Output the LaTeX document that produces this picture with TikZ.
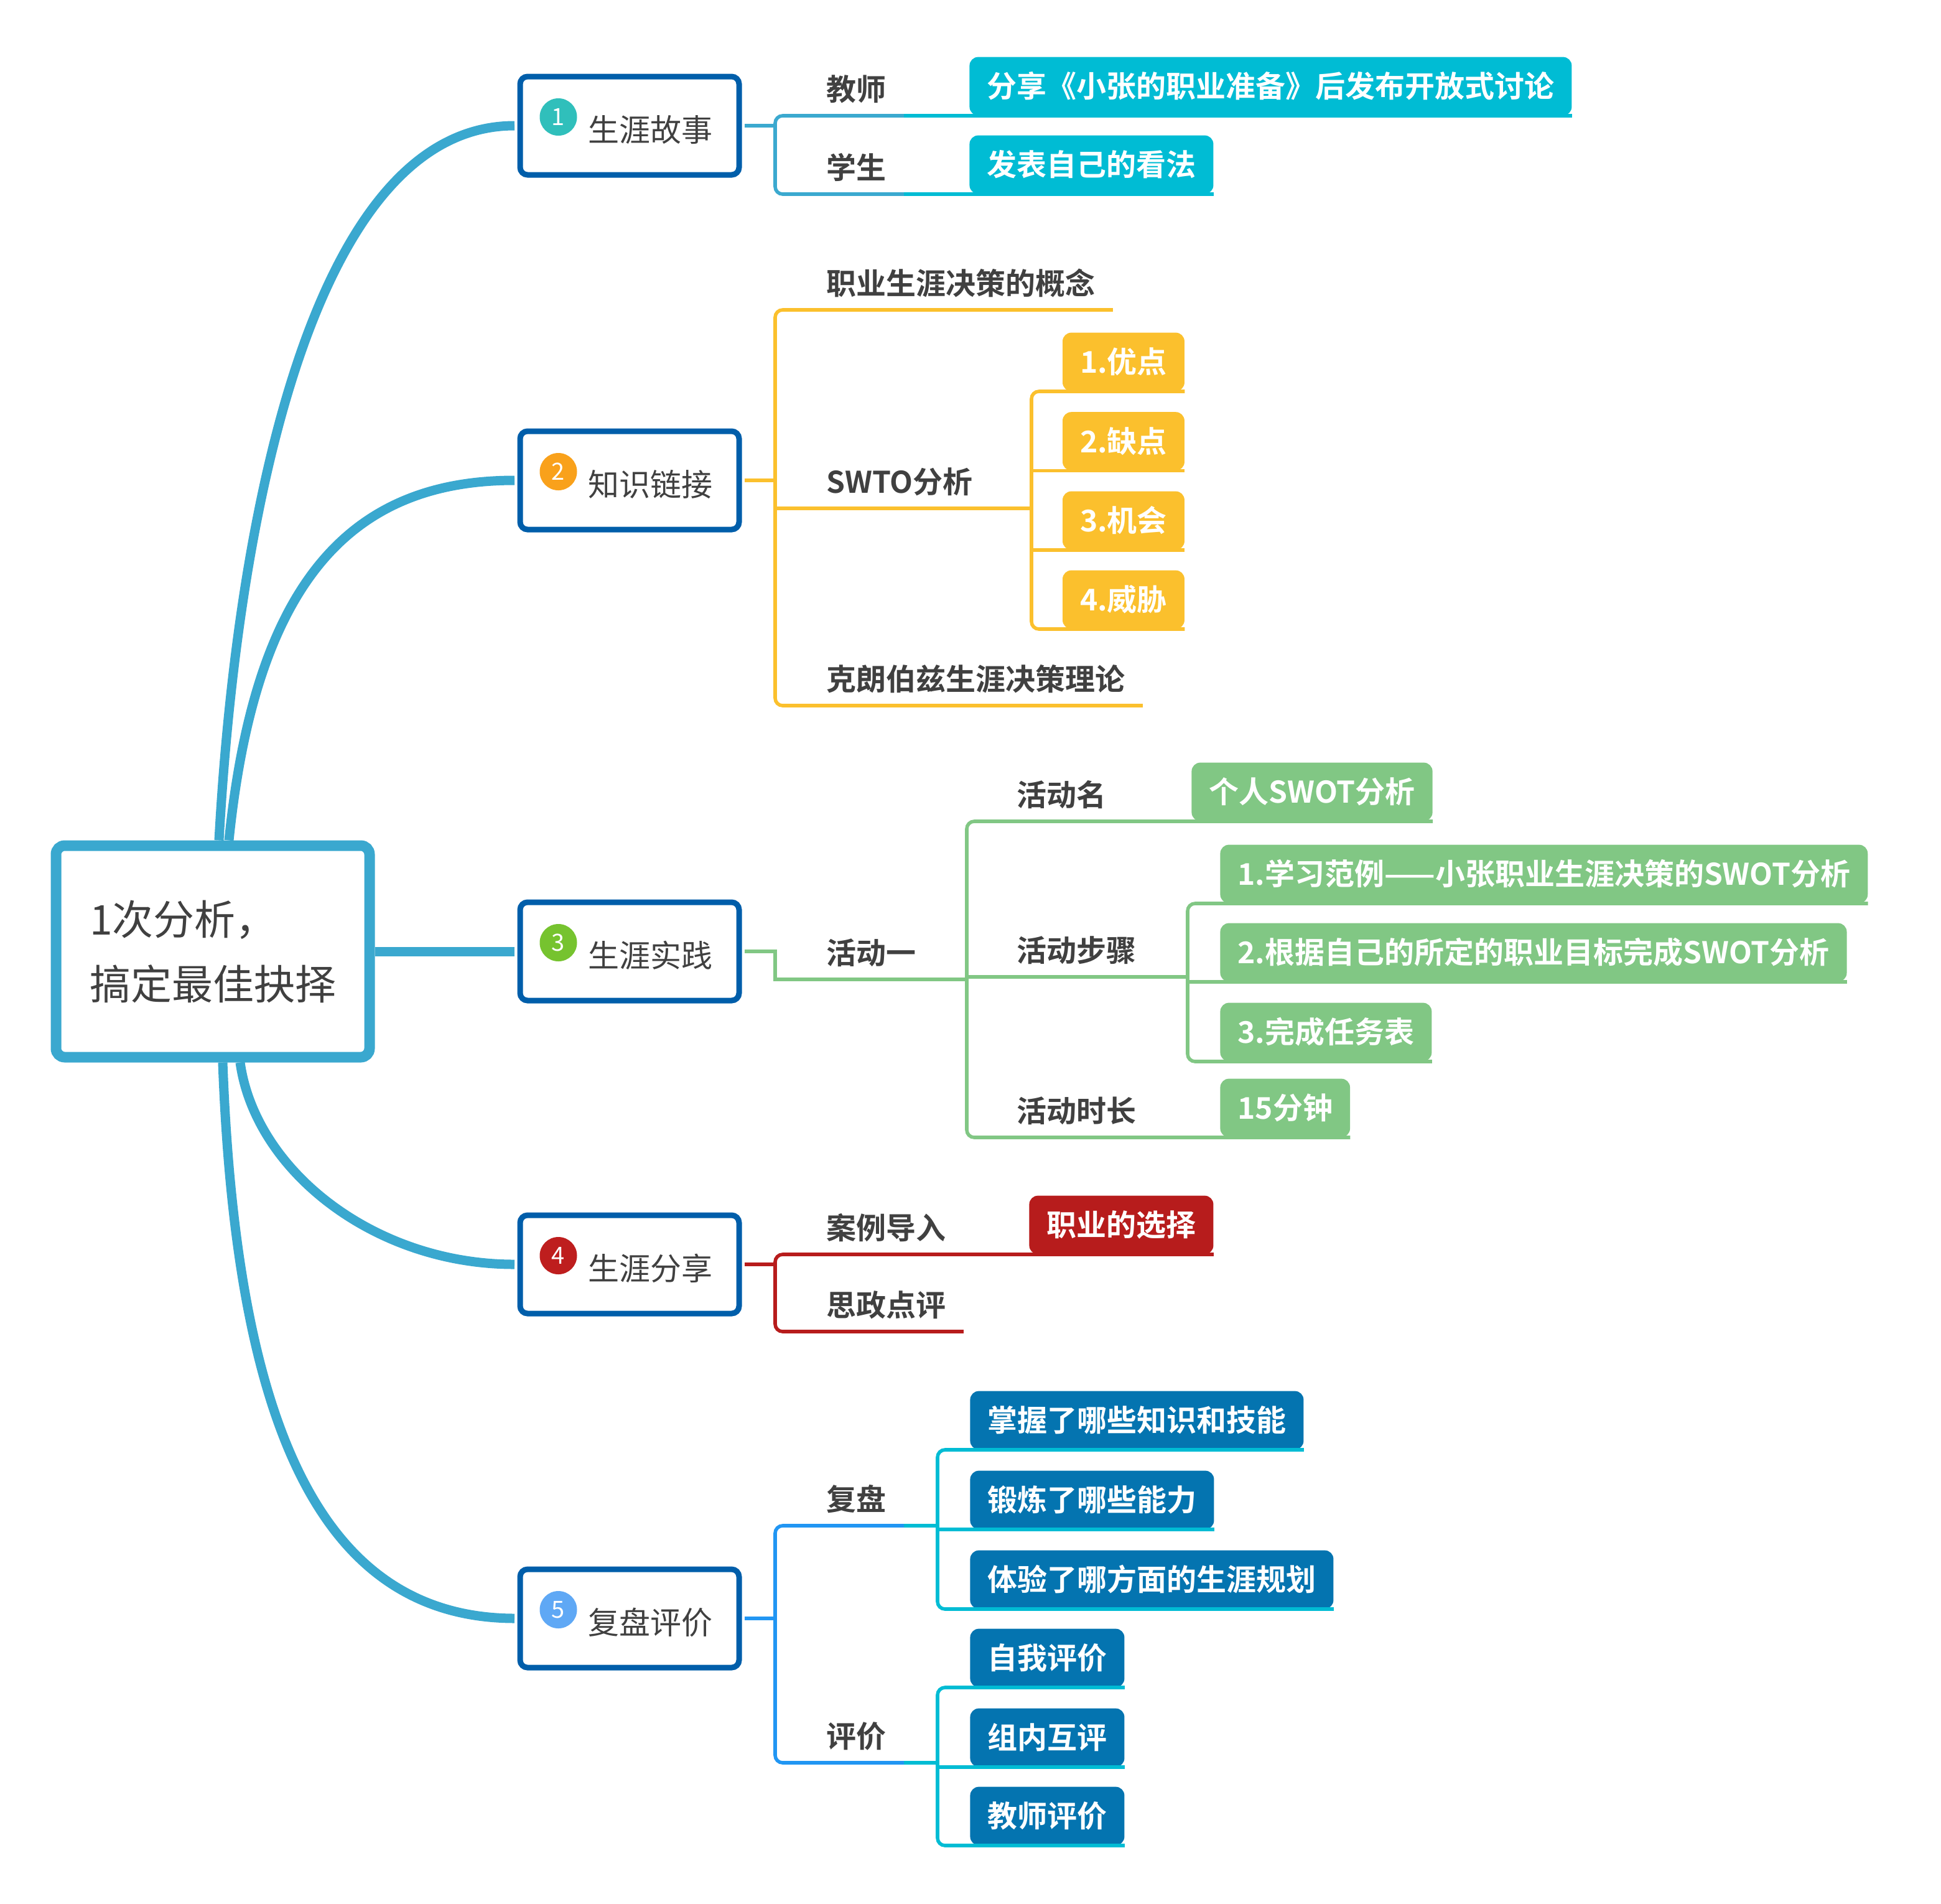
\documentclass[tikz,border=0pt]{standalone}
\usepackage{fontspec}
\setmainfont{Noto Sans CJK SC}[BoldFont={Noto Sans CJK SC Bold}]
\definecolor{trunkc}{HTML}{3AA8CF}
\definecolor{boxc}{HTML}{005EAA}
\definecolor{txtc}{HTML}{404040}
\definecolor{dotA}{HTML}{30BFBB}
\definecolor{dotB}{HTML}{F9A11B}
\definecolor{dotC}{HTML}{76C32F}
\definecolor{dotD}{HTML}{BE1E1E}
\definecolor{dotE}{HTML}{5FA8F5}
\definecolor{conA}{HTML}{3BA9CF}
\definecolor{leafA}{HTML}{00BCD4}
\definecolor{conB}{HTML}{FBC02D}
\definecolor{conC}{HTML}{81C784}
\definecolor{conD}{HTML}{B71C1C}
\definecolor{conE}{HTML}{2196F3}
\definecolor{conEE}{HTML}{00BCD4}
\definecolor{leafE}{HTML}{0474B0}

\begin{document}
\begin{tikzpicture}[x=1pt, y=-1pt,
    trunk/.style={draw=trunkc, line width=7.5pt},
    rootbox/.style={draw=trunkc, line width=8.5pt, rounded corners=7pt, fill=white,
        minimum width=252pt, minimum height=170pt, align=left, text=txtc,
        font=\fontsize{33}{52}\selectfont},
    mainbox/.style={draw=boxc, line width=4.5pt, rounded corners=6pt, fill=white,
        minimum width=176pt, minimum height=79pt},
    maintext/.style={anchor=west, inner sep=0pt, text height=22pt, text depth=3pt,
        text=txtc, font=\fontsize{25}{30}\selectfont},
    numdot/.style={circle, minimum size=30pt, inner sep=0pt, text=white,
        font=\fontsize{19}{19}\selectfont},
    lbl/.style={anchor=south west, inner xsep=14pt, inner ysep=9pt, text height=21pt,
        text depth=3pt, text=txtc, font=\bfseries\fontsize{24}{28}\selectfont},
    leaf/.style={anchor=south west, rounded corners=7pt, inner xsep=14pt, inner ysep=11.5pt,
        text height=21pt, text depth=3pt, text=white, font=\bfseries\fontsize{24}{28}\selectfont},
    con/.style={line width=2.8pt},
    elbow/.style={rounded corners=6pt}]
    \useasboundingbox (0,0) rectangle (1560,1529.5);

    % centre and the five topics
    \node[rootbox] (root) at (171,764.5) {1次分析，\\搞定最佳抉择};
    \foreach \i/\yy/\dc/\txt in {1/101/dotA/生涯故事, 2/386/dotB/知识链接, 3/764.5/dotC/生涯实践,
        4/1016/dotD/生涯分享, 5/1300.5/dotE/复盘评价} {
        \node[mainbox] (b\i) at (506,\yy) {};
        \node[numdot, fill=\dc] (d\i) at ([xshift=33pt, yshift=7pt]b\i.west) {\i};
        \node[maintext] (t\i) at ([xshift=57pt, yshift=-3pt]b\i.west) {\txt};
    }
    \draw[trunk, shorten >=2.25pt] ([xshift=5pt]root.north) .. controls (190,420) and (250,101) .. (b1.west);
    \draw[trunk, shorten >=2.25pt] ([xshift=13pt]root.north) .. controls (205,470) and (280,386) .. (b2.west);
    \draw[trunk, shorten >=2.25pt] (root.east) -- (b3.west);
    \draw[trunk, shorten >=2.25pt] ([xshift=22pt]root.south) .. controls (205,940) and (300,1016) .. (b4.west);
    \draw[trunk, shorten >=2.25pt] ([xshift=8pt]root.south) .. controls (190,1150) and (260,1300) .. (b5.west);

    % 1 生涯故事
    \coordinate (j1) at (623,101);
    \node[lbl] (l11) at (650,93) {教师};
    \node[lbl] (l12) at (650,156) {学生};
    \node[leaf, fill=leafA] (f11) at (779,93) {分享《小张的职业准备》后发布开放式讨论};
    \node[leaf, fill=leafA] (f12) at (779,156) {发表自己的看法};
    \draw[con, draw=conA, shorten <=2.25pt] (b1.east) -- (j1);
    \draw[con, draw=conA, elbow] (j1) |- (l11.south east);
    \draw[con, draw=conA, elbow] (j1) |- (l12.south east);
    \draw[con, draw=leafA] (l11.south east) -- (f11.south east);
    \draw[con, draw=leafA] (l12.south east) -- (f12.south east);

    % 2 知识链接
    \coordinate (j2) at (623,386);
    \coordinate (j22) at (829,408.5);
    \node[lbl] (l21) at (650,249) {职业生涯决策的概念};
    \node[lbl] (l22) at (650,408.5) {SWTO分析};
    \node[lbl] (l23) at (650,567) {克朗伯兹生涯决策理论};
    \node[leaf, fill=conB] (f21) at (853.8,314.5) {1.优点};
    \node[leaf, fill=conB] (f22) at (853.8,378.3) {2.缺点};
    \node[leaf, fill=conB] (f23) at (853.8,442) {3.机会};
    \node[leaf, fill=conB] (f24) at (853.8,505.5) {4.威胁};
    \draw[con, draw=conB, shorten <=2.25pt] (b2.east) -- (j2);
    \draw[con, draw=conB, elbow] (j2) |- (l21.south east);
    \draw[con, draw=conB] (j2) |- (l22.south east) -- (j22);
    \draw[con, draw=conB, elbow] (j2) |- (l23.south east);
    \draw[con, draw=conB, elbow] (j22) |- (f21.south east);
    \draw[con, draw=conB] (j22) |- (f22.south east);
    \draw[con, draw=conB] (j22) |- (f23.south east);
    \draw[con, draw=conB, elbow] (j22) |- (f24.south east);

    % 3 生涯实践
    \coordinate (j3) at (623,764.5);
    \coordinate (j31) at (777,787);
    \coordinate (j33) at (954.5,785);
    \node[lbl] (l31) at (650,787) {活动一};
    \node[lbl] (l32) at (803,660) {活动名};
    \node[lbl] (l33) at (803,785) {活动步骤};
    \node[lbl] (l34) at (803,914) {活动时长};
    \node[leaf, fill=conC] (f31) at (957.5,660) {个人SWOT分析};
    \node[leaf, fill=conC] (f32) at (980.5,726) {1.学习范例——小张职业生涯决策的SWOT分析};
    \node[leaf, fill=conC] (f33) at (980.5,789) {2.根据自己的所定的职业目标完成SWOT分析};
    \node[leaf, fill=conC] (f34) at (980.5,853) {3.完成任务表};
    \node[leaf, fill=conC] (f35) at (980.5,914) {15分钟};
    \draw[con, draw=conC, shorten <=2.25pt] (b3.east) -- (j3) |- (l31.south east) -- (j31);
    \draw[con, draw=conC, elbow] (j31) |- (l32.south east) -- (f31.south east);
    \draw[con, draw=conC] (j31) |- (l33.south east) -- (j33);
    \draw[con, draw=conC, elbow] (j31) |- (l34.south east) -- (f35.south east);
    \draw[con, draw=conC, elbow] (j33) |- (f32.south east);
    \draw[con, draw=conC] (j33) |- (f33.south east);
    \draw[con, draw=conC, elbow] (j33) |- (f34.south east);

    % 4 生涯分享
    \coordinate (j4) at (623,1016);
    \node[lbl] (l41) at (650,1008) {案例导入};
    \node[lbl] (l42) at (650,1070) {思政点评};
    \node[leaf, fill=conD] (f41) at (827,1008) {职业的选择};
    \draw[con, draw=conD, shorten <=2.25pt] (b4.east) -- (j4);
    \draw[con, draw=conD, elbow] (j4) |- (l41.south east) -- (f41.south east);
    \draw[con, draw=conD, elbow] (j4) |- (l42.south east);

    % 5 复盘评价
    \coordinate (j5) at (623,1300.5);
    \coordinate (j51) at (753.5,1226);
    \coordinate (j52) at (753.5,1416.5);
    \node[lbl] (l51) at (650,1226) {复盘};
    \node[lbl] (l52) at (650,1416.5) {评价};
    \node[leaf, fill=leafE] (f51) at (779.5,1165) {掌握了哪些知识和技能};
    \node[leaf, fill=leafE] (f52) at (779.5,1229) {锻炼了哪些能力};
    \node[leaf, fill=leafE] (f53) at (779.5,1293) {体验了哪方面的生涯规划};
    \node[leaf, fill=leafE] (f54) at (779.5,1356) {自我评价};
    \node[leaf, fill=leafE] (f55) at (779.5,1420) {组内互评};
    \node[leaf, fill=leafE] (f56) at (779.5,1483) {教师评价};
    \draw[con, draw=conE, shorten <=2.25pt] (b5.east) -- (j5);
    \draw[con, draw=conE, elbow] (j5) |- (l51.south east);
    \draw[con, draw=conE, elbow] (j5) |- (l52.south east);
    \draw[con, draw=conEE] (l51.south east) -- (j51);
    \draw[con, draw=conEE] (l52.south east) -- (j52);
    \draw[con, draw=conEE, elbow] (j51) |- (f51.south east);
    \draw[con, draw=conEE] (j51) |- (f52.south east);
    \draw[con, draw=conEE, elbow] (j51) |- (f53.south east);
    \draw[con, draw=conEE, elbow] (j52) |- (f54.south east);
    \draw[con, draw=conEE] (j52) |- (f55.south east);
    \draw[con, draw=conEE, elbow] (j52) |- (f56.south east);
\end{tikzpicture}
\end{document}
